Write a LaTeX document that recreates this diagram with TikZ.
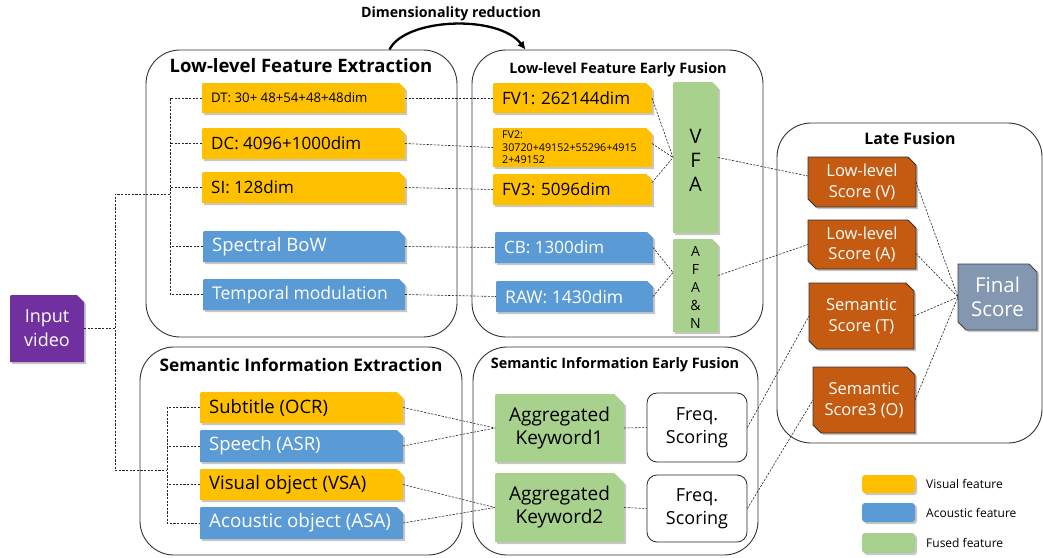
\documentclass[tikz,border=0pt]{standalone}
\usepackage{fontspec}
\setmainfont{Open Sans}
\usetikzlibrary{arrows.meta,calc}
\definecolor{yelc}{HTML}{FFC000}
\definecolor{bluc}{HTML}{5B9BD5}
\definecolor{grnc}{HTML}{A9D18E}
\definecolor{orac}{HTML}{C55A11}
\definecolor{purc}{HTML}{7030A0}
\definecolor{finc}{HTML}{8497B0}
\tikzset{
  shadowc/.style={black,opacity=.22},
  boxanchor/.style={inner sep=0pt,outer sep=0pt,draw=none,rectangle},
  dl/.style={draw=black!85,dash pattern=on 2.2pt off 1.4pt,line width=0.6pt},
  container/.style={draw=black!80,line width=0.9pt,rounded corners=34pt,inner sep=0pt},
  ctext/.style={at={(\curbox.center)},anchor=center,align=center},
  wt/.style={text=white},
  fa/.style={font=\fontsize{17}{20}\selectfont},
  fb/.style={font=\fontsize{18.5}{23}\selectfont},
  ttl/.style={font=\bfseries\fontsize{18.5}{21}\selectfont},
  tts/.style={font=\bfseries\fontsize{14.4}{16}\selectfont},
}
\newcommand{\featbox}[9]{%
  \fill[shadowc] (#2+2,#5+2) -- (#2+2,#3+6) .. controls (#2+2,#3+2) .. (#2+6,#3+2) -- (#4+2-#7,#3+2) -- (#4+2,#3+2+#7) -- (#4+2,#5+2) -- cycle;
  \fill[#6] (#2,#5) -- (#2,#3+4) .. controls (#2,#3) .. (#2+4,#3) -- (#4-#7,#3) -- (#4,#3+#7) -- (#4,#5) -- cycle;
  \node[boxanchor,minimum width={(#4-#2)*1pt},minimum height={(#5-#3)*1pt}] (#1) at ({(#2+#4)/2},{(#3+#5)/2}) {};
  \def\curbox{#1}%
  \node[anchor=west,at={([xshift=9pt]#1.west)},inner sep=0pt,#8] {#9};
}
\newcommand{\scorebox}[8]{%
  \fill[shadowc] (#2+2,#3+2) -- (#4+2-8,#3+2) -- (#4+2,#3+10) -- (#4+2,#5+2) -- (#2+10,#5+2) -- (#2+2,#5-6) -- cycle;
  \filldraw[fill=#6,draw=#7,line width=0.8pt] (#2,#3) -- (#4-8,#3) -- (#4,#3+8) -- (#4,#5) -- (#2+8,#5) -- (#2,#5-8) -- cycle;
  \node[boxanchor,minimum width={(#4-#2)*1pt},minimum height={(#5-#3)*1pt}] (#1) at ({(#2+#4)/2},{(#3+#5)/2}) {};
  \node[align=center,text=white,inner sep=0pt,at={(#1.center)}] {#8};
}
\newcommand{\legbox}[5]{%
  \fill[shadowc,rounded corners=3pt] (#1+2,#2+2) rectangle (#3+2,#4+2);
  \fill[#5,rounded corners=3pt] (#1,#2) rectangle (#3,#4);
}
\begin{document}
\begin{tikzpicture}[x=1pt,y=-1pt]
\useasboundingbox (0,0) rectangle (1043,557);
\fill[white] (0,0) rectangle (1043,557);

% containers
\node[container,minimum width=311pt,minimum height=287pt] (lfe) at (301.5,193.5) {};
\node[container,minimum width=291pt,minimum height=287pt] (lef) at (617.5,193.5) {};
\node[container,minimum width=265pt,minimum height=320pt] (late) at (909.5,283) {};
\node[container,minimum width=322pt,minimum height=208pt] (sie) at (301,451) {};
\node[container,minimum width=285pt,minimum height=208pt] (sef) at (615.5,451) {};

% titles
\node[font=\bfseries\fontsize{14.2}{16}\selectfont] (dimr) at (451,14) {Dimensionality reduction};
\node[ttl] (t1) at (301,66) {Low-level Feature Extraction};
\node[tts] (t2) at (618,70) {Low-level Feature Early Fusion};
\node[font=\bfseries\fontsize{15.9}{18}\selectfont] (t3) at (910,139) {Late Fusion};
\node[font=\bfseries\fontsize{17.3}{21}\selectfont] (t4) at (301,365) {Semantic Information Extraction};
\node[tts] (t5) at (615,365) {Semantic Information Early Fusion};

\draw[line width=2.3pt,-{Latex[length=8pt,width=8pt]}] ([xshift=88pt]lfe.north) .. controls (405,18) and (498,14) .. ([xshift=-92pt]lef.north);

% low-level extraction boxes
\featbox{dt}{202}{83}{405}{113}{yelc}{6}{font=\fontsize{13.2}{15}\selectfont}{DT: 30+ 48+54+48+48dim}
\featbox{dc}{202}{128}{405}{159}{yelc}{6}{fa}{DC: 4096+1000dim}
\featbox{si}{202}{172}{405}{203}{yelc}{6}{fa}{SI: 128dim}
\featbox{sb}{203}{231}{405}{262}{bluc}{6}{font=\fontsize{18.5}{20}\selectfont,wt}{Spectral BoW}
\featbox{tm}{203}{279}{405}{310}{bluc}{6}{font=\fontsize{17.5}{19}\selectfont,wt}{Temporal modulation}

% early fusion boxes
\featbox{fv1}{493}{83}{652}{113}{yelc}{6}{fa}{FV1: 262144dim}
\featbox{fv2}{493}{128}{652}{167}{yelc}{6}{font=\fontsize{10.7}{12.5}\selectfont,align=left}{FV2:\\30720+49152+55296+4915\\2+49152}
\featbox{fv3}{493}{174}{652}{205}{yelc}{6}{fa}{FV3: 5096dim}
\featbox{cb}{495}{232}{653}{263}{bluc}{6}{fa,wt}{CB: 1300dim}
\featbox{raw}{496}{281}{653}{312}{bluc}{6}{font=\fontsize{17.5}{20}\selectfont,wt}{RAW: 1430dim}
\featbox{vfa}{673}{82}{718}{233}{grnc}{6}{ctext,font=\fontsize{20}{24}\selectfont,yshift=-3pt}{V\\F\\A}
\featbox{afan}{673}{239}{718}{332}{grnc}{6}{ctext,font=\fontsize{14}{17.8}\selectfont,yshift=-2pt}{A\\F\\A\\\&\\N}

% input
\featbox{inp}{10}{295}{84}{362}{purc}{7}{ctext,wt,font=\fontsize{18}{24}\selectfont}{Input\\video}

% semantic extraction
\featbox{sub}{200}{392}{403}{423}{yelc}{6}{fb}{Subtitle (OCR)}
\featbox{sp}{200}{430}{403}{462}{bluc}{6}{fb,wt}{Speech (ASR)}
\featbox{vo}{200}{469}{403}{500}{yelc}{6}{fb}{Visual object (VSA)}
\featbox{ao}{200}{507}{403}{539}{bluc}{6}{font=\fontsize{18.8}{23}\selectfont,wt}{Acoustic object (ASA)}

% semantic early fusion
\featbox{ag1}{495}{394}{624}{462}{grnc}{10}{ctext,font=\fontsize{19}{23}\selectfont}{Aggregated\\Keyword1}
\featbox{ag2}{495}{473}{624}{542}{grnc}{10}{ctext,font=\fontsize{19}{23}\selectfont}{Aggregated\\Keyword2}
\node[draw=black!85,line width=0.8pt,rounded corners=10pt,fill=white,minimum width=100pt,minimum height=69pt,align=center,font=\fontsize{18}{23}\selectfont] (fq1) at (697,427.5) {Freq.\\Scoring};
\node[draw=black!85,line width=0.8pt,rounded corners=10pt,fill=white,minimum width=100pt,minimum height=67pt,align=center,font=\fontsize{18}{23}\selectfont] (fq2) at (697,508.5) {Freq.\\Scoring};

% late fusion
\begin{scope}[font=\fontsize{16.5}{20.5}\selectfont]
\scorebox{sv}{808}{157}{916}{207}{orac}{black!80}{Low-level\\Score (V)}
\scorebox{sa}{808}{220}{916}{269}{orac}{black!80}{Low-level\\Score (A)}
\scorebox{st}{809}{283}{914}{349}{orac}{black!80}{Semantic\\Score (T)}
\scorebox{so}{813}{367}{915}{433}{orac}{black!80}{Semantic\\Score3 (O)}
\end{scope}
\begin{scope}[font=\fontsize{20.5}{24}\selectfont]
\scorebox{fsn}{958}{264}{1037}{330}{finc}{black!75}{Final\\Score}
\end{scope}

% legend
\legbox{862}{475}{915}{493}{yelc}
\legbox{862}{503}{915}{522}{bluc}
\legbox{862}{533}{915}{553}{grnc}
\begin{scope}[font=\fontsize{12}{14}\selectfont,anchor=west,inner sep=0pt]
\node (lg1) at (926,484) {Visual feature};
\node (lg2) at (926,512.5) {Acoustic feature};
\node (lg3) at (926,543) {Fused feature};
\end{scope}

% brackets and input connectors
\coordinate (lbx) at (170,0);
\coordinate (sbx) at (167,0);
\coordinate (j1) at (115,194);
\coordinate (j2) at (115,470);
\draw[dl] (dt.west) -| (lbx |- tm.west) -- (tm.west);
\draw[dl] (dc.west) -- (dc.west -| lbx);
\draw[dl] (si.west) -- (si.west -| lbx);
\draw[dl] (sb.west) -- (sb.west -| lbx);
\draw[dl] (sub.west) -| (sbx |- ao.west) -- (ao.west);
\draw[dl] (sp.west) -- (sp.west -| sbx);
\draw[dl] (vo.west) -- (vo.west -| sbx);
\draw[dl] (j1 -| lbx) -- (j1) -- (j2) -- (j2 -| sbx);
\draw[dl] (inp.east) -- (inp.east -| j1);

% extraction -> early fusion
\draw[dl] (dt.east) -- (fv1.west);
\draw[dl] (dc.east) -- (fv2.west);
\draw[dl] (si.east) -- (fv3.west);
\draw[dl] (sb.east) -- (cb.west);
\draw[dl] (tm.east) -- (raw.west);
\draw[dl] (fv1.east) -- (vfa.west);
\draw[dl] ([yshift=4pt]fv2.east) -- (vfa.west);
\draw[dl] ([yshift=7pt]fv3.east) -- (vfa.west);
\draw[dl] (cb.east) -- ([yshift=13pt]afan.west);
\draw[dl] (raw.east) -- ([yshift=13pt]afan.west);
\draw[dl] (sub.east) -- (ag1.west);
\draw[dl] (sp.east) -- (ag1.west);
\draw[dl] (vo.east) -- (ag2.west);
\draw[dl] (ao.east) -- (ag2.west);
\draw[dl] (ag1.east) -- (fq1.west);
\draw[dl] (ag2.east) -- (fq2.west);

% early fusion -> late fusion
\draw[dl] (vfa.east) -- ([yshift=6pt]sv.west);
\draw[dl] ([yshift=10pt]afan.east) -- (sa.west);
\draw[dl] (fq1.east) -- (st.west);
\draw[dl] (fq2.east) -- (so.west);
\draw[dl] (sv.east) -- (fsn.west);
\draw[dl] ([yshift=-9pt]sa.east) -- (fsn.west);
\draw[dl] (st.east) -- (fsn.west);
\draw[dl] (so.east) -- (fsn.west);
\end{tikzpicture}
\end{document}
